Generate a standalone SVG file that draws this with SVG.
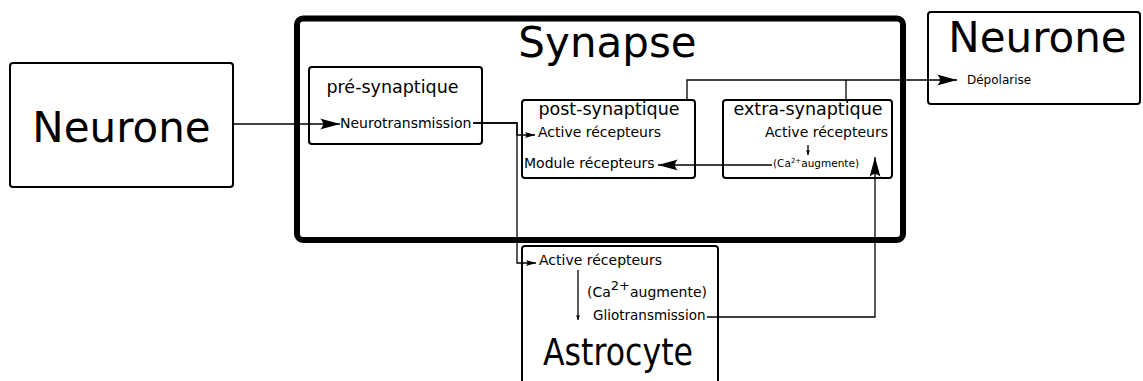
<svg xmlns="http://www.w3.org/2000/svg" width="1143" height="381" viewBox="0 0 1143 381">
<style>
.box{fill:#fff;stroke:#000;stroke-width:2}
.syn{fill:none;stroke:#000;stroke-width:6}
text{font-family:"DejaVu Sans","Liberation Sans",sans-serif;fill:#000}
.big{font-size:42px}
.title{font-size:17.5px}
.lbl{font-size:14px}
.con{fill:none;stroke:#000;stroke-width:1.3}
</style>
<defs>
<marker id="aBig" viewBox="-21 -6 22 12" refX="0" refY="0" markerWidth="22" markerHeight="12" markerUnits="userSpaceOnUse" orient="auto">
<path d="M0,0 L-20,-5.5 C-16,-2 -16,2 -20,5.5 Z" fill="#000"/>
</marker>
<marker id="aSmall" viewBox="-11 -4 12 8" refX="0" refY="0" markerWidth="12" markerHeight="8" markerUnits="userSpaceOnUse" orient="auto">
<path d="M0,0 L-10,-3 C-8,-1 -8,1 -10,3 Z" fill="#000"/>
</marker>
<marker id="aTiny" viewBox="-6 -3 7 6" refX="0" refY="0" markerWidth="7" markerHeight="6" markerUnits="userSpaceOnUse" orient="auto">
<path d="M0,0 L-5,-2 C-4,-0.7 -4,0.7 -5,2 Z" fill="#000"/>
</marker>
</defs>
<g id="neurone-left">
<rect class="box" x="10" y="63" width="223" height="124" rx="3"/>
<text class="big" x="121.5" y="142" text-anchor="middle">Neurone</text>
</g>
<g id="synapse">
<rect class="syn" x="297" y="18.5" width="606" height="221.5" rx="6"/>
<text class="big" x="607.5" y="57" text-anchor="middle">Synapse</text>
</g>
<g id="pre">
<rect class="box" x="309" y="67" width="173" height="77" rx="3"/>
<text class="title" x="392.5" y="93" text-anchor="middle">pré-synaptique</text>
<text class="lbl" x="340" y="128">Neurotransmission</text>
</g>
<g id="post">
<rect class="box" x="522" y="100" width="173" height="78" rx="3"/>
<text class="title" x="609" y="115" text-anchor="middle">post-synaptique</text>
<text class="lbl" x="538" y="137">Active récepteurs</text>
<text class="lbl" x="524" y="168">Module récepteurs</text>
</g>
<g id="extra">
<rect class="box" x="723" y="100" width="169" height="78" rx="3"/>
<text class="title" x="808" y="115" text-anchor="middle">extra-synaptique</text>
<text class="lbl" x="888" y="137" text-anchor="end">Active récepteurs</text>
<text x="773" y="167" style="font-size:10.5px">(Ca<tspan dy="-4" style="font-size:7px">2+</tspan><tspan dy="4">augmente)</tspan></text>
</g>
<g id="neurone-right">
<rect class="box" x="928" y="12" width="212" height="92" rx="3"/>
<text class="big" x="1037.5" y="52" text-anchor="middle">Neurone</text>
<text x="967" y="84" style="font-size:12px">Dépolarise</text>
</g>
<g id="astrocyte">
<rect class="box" x="522" y="246" width="196" height="150" rx="3"/>
<text class="lbl" x="539" y="265">Active récepteurs</text>
<text x="587" y="297" style="font-size:14px">(Ca<tspan dy="-7" style="font-size:13px">2+</tspan><tspan dy="7">augmente)</tspan></text>
<text x="593" y="320" style="font-size:13.5px">Gliotransmission</text>
<text x="618" y="365" text-anchor="middle" textLength="150" lengthAdjust="spacingAndGlyphs" style="font-size:37px">Astrocyte</text>
</g>
<g id="connectors">
<path class="con" d="M233,124 H340" marker-end="url(#aBig)"/>
<path class="con" d="M473,123 H517 V135 H535" marker-end="url(#aSmall)"/>
<path class="con" d="M473,123 H517 V263 H536" marker-end="url(#aSmall)"/>
<path class="con" d="M772,165 H658" marker-end="url(#aBig)"/>
<path class="con" d="M707,317 H875 V157" marker-end="url(#aBig)"/>
<path class="con" d="M687,100 V80 H957" marker-end="url(#aBig)"/>
<path class="con" d="M846,100 V80"/>
<path class="con" d="M578,270 V320" marker-end="url(#aTiny)"/>
<path class="con" d="M808,145 V155" stroke-width="0.8" marker-end="url(#aTiny)"/>
</g>
</svg>
